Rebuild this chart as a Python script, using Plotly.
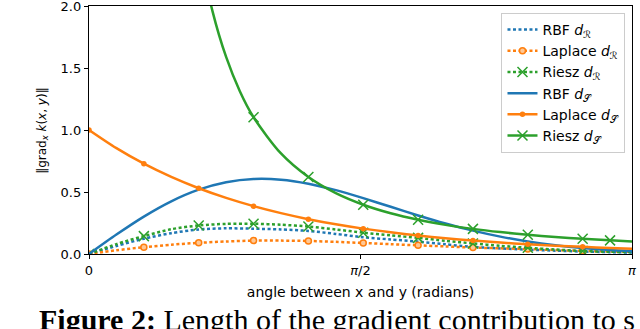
import math
import plotly.graph_objects as go

# angle grid in units of pi (markers at every second point)
t_pi = [j * 5 / 99 for j in range(20)] + [1.0]
theta = [v * math.pi for v in t_pi]

# solid curves (d_S)
rbf_s = [0, 0.1567, 0.3018, 0.4250, 0.5189, 0.5791, 0.6051, 0.5994, 0.5671, 0.5152,
         0.4506, 0.3806, 0.3107, 0.2459, 0.1884, 0.1402, 0.1012, 0.0710, 0.0484, 0.0321, 0.0226]
lap_s = [1.0, 0.8533, 0.7281, 0.6213, 0.5301, 0.4523, 0.3860, 0.3294, 0.2810, 0.2398,
         0.2046, 0.1746, 0.1490, 0.1271, 0.1085, 0.0926, 0.0790, 0.0674, 0.0575, 0.0491, 0.0432]
riesz_s_tpi = [3 * 5 / 99, 3.5 * 5 / 99, 4 * 5 / 99, 4.5 * 5 / 99, 5 * 5 / 99, 5.5 * 5 / 99] + \
              [j * 5 / 99 for j in range(6, 20)] + [1.0]
riesz_s = [4.41, 3.243, 2.483, 1.961, 1.589, 1.313, 1.103, 0.8107, 0.6207, 0.4904, 0.3972,
           0.3283, 0.2758, 0.2350, 0.2027, 0.1765, 0.1552, 0.1374, 0.1226, 0.1100, 0.1013]
riesz_s_mark_idx = [6, 8, 10, 12, 14, 16, 18, 19]  # indices into riesz_s lists that carry markers

# dotted curves (d_R)
rbf_r = [0, 0.065, 0.123, 0.168, 0.198, 0.207, 0.204, 0.198, 0.186, 0.162,
         0.135, 0.117, 0.100, 0.078, 0.057, 0.045, 0.035, 0.027, 0.020, 0.015, 0.012]
lap_r = [0, 0.030, 0.055, 0.075, 0.090, 0.101, 0.108, 0.108, 0.105, 0.098,
         0.089, 0.079, 0.070, 0.061, 0.052, 0.046, 0.040, 0.032, 0.025, 0.021, 0.018]
riesz_r = [0, 0.080, 0.144, 0.200, 0.230, 0.243, 0.244, 0.236, 0.222, 0.198,
           0.172, 0.150, 0.130, 0.106, 0.085, 0.066, 0.050, 0.036, 0.024, 0.018, 0.015]

tick_vals_pi = [0, 0.5, 1.0]
tick_text = ["0", "<i>π</i>/2", "<i>π</i>"]

BLUE, ORANGE, GREEN = "#1f77b4", "#ff7f0e", "#2ca02c"
LW = 2.5
DOT = "3px,2.5px"

mark_idx = list(range(0, 20, 2))

fig = go.Figure()

def add_series(xv, yv, color, dash, midx, mstyle):
    fig.add_trace(go.Scatter(x=xv, y=yv, mode="lines", showlegend=False,
                             line=dict(color=color, width=LW, dash=dash, shape="spline", smoothing=0.8),
                             hoverinfo="skip"))
    if mstyle is not None:
        fig.add_trace(go.Scatter(x=[xv[i] for i in midx], y=[yv[i] for i in midx],
                                 mode="markers", showlegend=False, marker=mstyle, hoverinfo="skip"))

th = theta
th_rs = [v * math.pi for v in riesz_s_tpi]

lap_r_marker = dict(symbol="circle", size=6, color="#ffc896", line=dict(color=ORANGE, width=1.5))
lap_s_marker = dict(symbol="circle", size=5.5, color=ORANGE)
riesz_marker = dict(symbol="x-thin", size=10, color=GREEN, line=dict(color=GREEN, width=1.5))

# dotted (d_R) first, solid drawn on top
add_series(th, rbf_r, BLUE, DOT, [], None)
add_series(th, lap_r, ORANGE, DOT, mark_idx, lap_r_marker)
add_series(th, riesz_r, GREEN, DOT, mark_idx, riesz_marker)
add_series(th, rbf_s, BLUE, "solid", [], None)
add_series(th, lap_s, ORANGE, "solid", mark_idx, lap_s_marker)
add_series(th_rs, riesz_s, GREEN, "solid", riesz_s_mark_idx, riesz_marker)

# legend entries
legend_items = [
    ("RBF <i>d</i><sub>ℛ</sub>", BLUE, DOT, None),
    ("Laplace <i>d</i><sub>ℛ</sub>", ORANGE, DOT, lap_r_marker),
    ("Riesz <i>d</i><sub>ℛ</sub>", GREEN, DOT, riesz_marker),
    ("RBF <i>d</i><sub>𝒮</sub>", BLUE, "solid", None),
    ("Laplace <i>d</i><sub>𝒮</sub>", ORANGE, "solid", lap_s_marker),
    ("Riesz <i>d</i><sub>𝒮</sub>", GREEN, "solid", riesz_marker),
]
for name, color, dash, mk in legend_items:
    fig.add_trace(go.Scatter(x=[None], y=[None], name=name,
                             mode="lines+markers" if mk else "lines",
                             line=dict(color=color, width=LW, dash=dash),
                             marker=mk if mk else None))

fig.update_layout(
    width=640, height=329,
    margin=dict(l=89, r=8, t=6, b=75, autoexpand=False),
    paper_bgcolor="white", plot_bgcolor="white",
    font=dict(family="DejaVu Sans", size=13, color="black"),
    legend=dict(x=0.988, y=0.972, xanchor="right", yanchor="top",
                bgcolor="rgba(255,255,255,0.8)", bordercolor="#cccccc", borderwidth=1,
                font=dict(size=14), tracegroupgap=0, itemwidth=30),
)
fig.update_xaxes(
    range=[0, math.pi], tickvals=[v * math.pi for v in tick_vals_pi], ticktext=tick_text,
    showline=True, linecolor="black", linewidth=1.2, mirror=True, automargin=False,
    ticklabeloverflow="allow",
    ticks="outside", ticklen=4, tickwidth=1, tickcolor="black", showgrid=False, zeroline=False,
    title=dict(text="angle between x and y (radians)", standoff=10, font=dict(size=14)),
)
fig.update_yaxes(
    range=[0, 2], dtick=0.5, tickformat=".1f",
    showline=True, linecolor="black", linewidth=1.2, mirror=True, automargin=False,
    ticklabeloverflow="allow",
    ticks="outside", ticklen=4, tickwidth=1, tickcolor="black", showgrid=False, zeroline=False,
)
# y-axis title placed as a rotated annotation
fig.add_annotation(
    xref="paper", yref="paper", x=-0.085, y=0.5, xanchor="center", yanchor="middle",
    textangle=-90, showarrow=False,
    text="‖grad<sub><i>x</i></sub> <i>k</i>(<i>x</i>, <i>y</i>)‖",
    font=dict(family="DejaVu Sans", size=12, color="black"),
)
fig.add_annotation(
    xref="paper", yref="paper", x=-0.095, y=-0.265, xanchor="left", yanchor="middle",
    text="<b>Figure 2:</b> Length of the gradient contribution to s",
    showarrow=False, font=dict(family="Liberation Serif", size=30, color="black"),
)

fig.write_html("out.html", config={"displayModeBar": False, "staticPlot": True},
               post_script="document.body.style.margin='0';")
